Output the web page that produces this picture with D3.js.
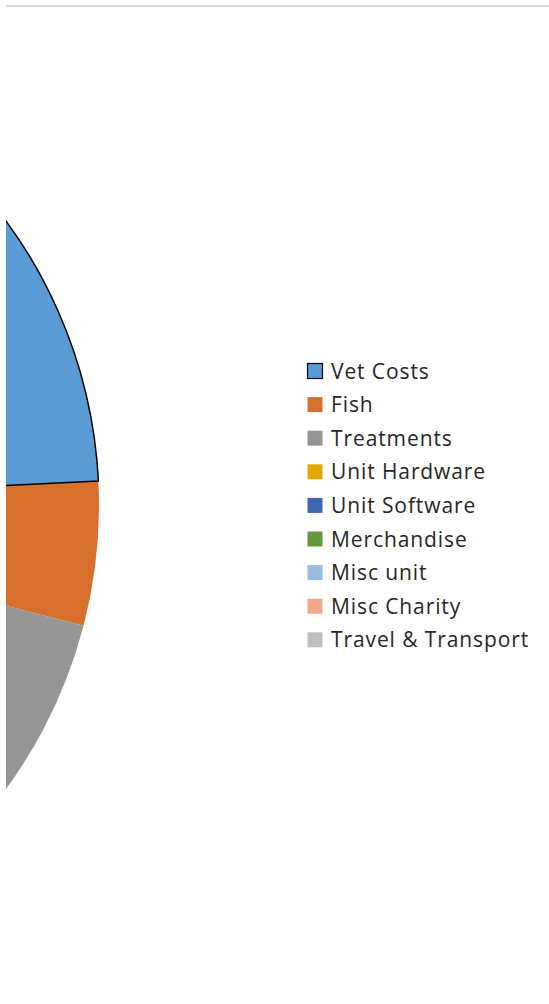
<!DOCTYPE html>
<html>
<head>
<meta charset="utf-8">
<script src="https://d3js.org/d3.v7.min.js"></script>
<style>
  body { margin: 0; background: #ffffff; }
  svg { display: block; }
</style>
</head>
<body>
<div id="my_dataviz"></div>
<script>

// categories and their share of the pie (percent)
var categories = ["Vet Costs", "Fish", "Treatments", "Unit Hardware", "Unit Software",
                  "Merchandise", "Misc unit", "Misc Charity", "Travel & Transport"];
var values = [24.2, 4.85, 15, 20, 8, 12, 6, 5, 4.95];
var colors = ["#5a9bd5", "#d6702c", "#959595", "#e2aa00", "#3f67b1",
              "#64993d", "#9cbbe1", "#f1a98b", "#bfbfbf"];

var width = 549, height = 1004;

var svg = d3.select("#my_dataviz")
  .append("svg")
    .attr("width", width)
    .attr("height", height);

// chart area clip (the pie is cut at the left edge)
svg.append("defs").append("clipPath")
    .attr("id", "plotclip")
  .append("rect")
    .attr("x", 6).attr("y", 7)
    .attr("width", width - 6).attr("height", height - 7);

// top border line
svg.append("line")
    .attr("x1", 6).attr("x2", width)
    .attr("y1", 6).attr("y2", 6)
    .attr("stroke", "#d9d9d9")
    .attr("stroke-width", 2);

var radius = 480;
var data = categories.map(function(c, i) { return {name: c, value: values[i], color: colors[i]}; });

var pie = d3.pie()
  .sort(null)
  .value(function(d) { return d.value; });

var arc = d3.arc()
  .innerRadius(0)
  .outerRadius(radius);

var g = svg.append("g")
    .attr("clip-path", "url(#plotclip)")
  .append("g")
    .attr("transform", "translate(-381,505)");

var slices = pie(data);

g.selectAll("path.slice")
  .data(slices.slice(1))
  .enter().append("path")
    .attr("class", "slice")
    .attr("d", arc)
    .attr("fill", function(d) { return d.data.color; });

// Vet Costs is selected -> black outline, drawn last
g.append("path")
    .datum(slices[0])
    .attr("d", arc)
    .attr("fill", function(d) { return d.data.color; })
    .attr("stroke", "#000000")
    .attr("stroke-width", 1.5)
    .attr("stroke-linejoin", "round");

// legend
var legend = svg.append("g")
    .attr("transform", "translate(307,371)");

var rowH = 33.6;
var items = legend.selectAll("g")
  .data(data)
  .enter().append("g")
    .attr("transform", function(d, i) { return "translate(0," + (i * rowH) + ")"; });

items.append("rect")
    .attr("x", 0.5).attr("y", -7.5)
    .attr("width", 15).attr("height", 15)
    .attr("fill", function(d) { return d.color; })
    .attr("stroke", function(d, i) { return i === 0 ? "#000000" : "none"; })
    .attr("stroke-width", 1.2);

items.append("text")
    .attr("x", 24)
    .attr("y", 0)
    .attr("dy", "0.36em")
    .style("font-family", "'Open Sans', sans-serif")
    .style("font-size", "21px")
    .style("letter-spacing", "0.9px")
    .style("fill", "#262626")
    .text(function(d) { return d.name; });

</script>
</body>
</html>
